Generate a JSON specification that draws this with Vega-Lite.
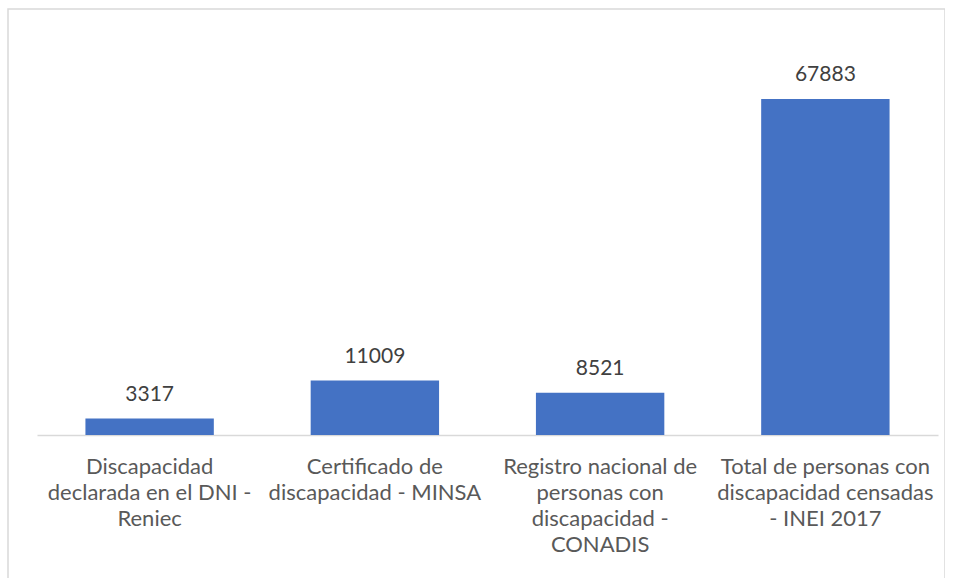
{
  "$schema": "https://vega.github.io/schema/vega-lite/v6.json",
  "width": 937,
  "height": 575,
  "autosize": {"type": "none"},
  "padding": {"left": 8, "top": 9, "right": 0, "bottom": 0},
  "background": "white",
  "config": {"view": {"stroke": "#d9d9d9", "strokeWidth": 1.5}},
  "data": {
    "values": [
      {"cat": "Discapacidad|declarada en el DNI -|Reniec", "value": 3317},
      {"cat": "Certificado de|discapacidad - MINSA", "value": 11009},
      {"cat": "Registro nacional de|personas con|discapacidad -|CONADIS", "value": 8521},
      {"cat": "Total de personas con|discapacidad censadas|- INEI 2017", "value": 67883}
    ]
  },
  "encoding": {
    "x": {
      "field": "cat", "type": "nominal", "sort": null,
      "scale": {"range": [29, 930], "paddingInner": 0.43, "paddingOuter": 0.215},
      "axis": {
        "title": null, "labelAngle": 0, "ticks": false,
        "domainColor": "#d9d9d9", "domainWidth": 1.5,
        "offset": -149,
        "labelExpr": "split(datum.label, '|')",
        "labelFont": "Lato", "labelFontSize": 22, "labelColor": "#595959",
        "labelLineHeight": 26, "labelPadding": 21, "labelLimit": 300
      }
    },
    "y": {
      "field": "value", "type": "quantitative",
      "scale": {"domain": [0, 80000], "range": [426, 30], "nice": false},
      "axis": null
    }
  },
  "layer": [
    {"mark": {"type": "bar", "color": "#4472C4"}},
    {
      "mark": {"type": "text", "dy": -18, "baseline": "alphabetic", "font": "Lato", "fontSize": 21, "color": "#404040"},
      "encoding": {"text": {"field": "value", "type": "quantitative", "format": "d"}}
    }
  ]
}
